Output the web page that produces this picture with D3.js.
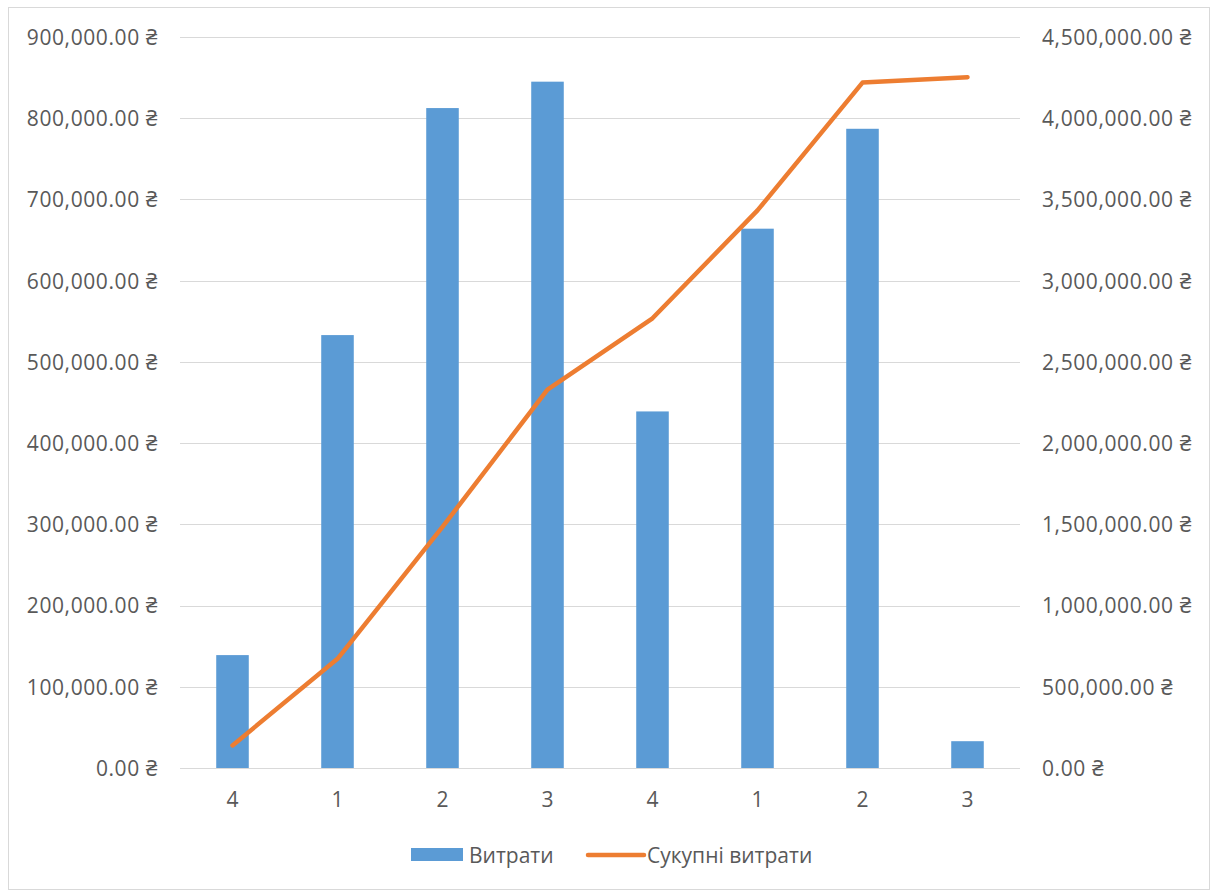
<!DOCTYPE html>
<html>
<head>
<meta charset="utf-8">
<script src="https://cdn.jsdelivr.net/npm/d3@7"></script>
<style>
  html, body { margin: 0; padding: 0; background: #fff; }
  svg { display: block; }
  text { font-family: "Open Sans", "Noto Sans", sans-serif; fill: #595959; }
</style>
</head>
<body>
<svg id="chart" width="1213" height="892"></svg>
<script>
// Quarter labels along the x axis
const quarters = ["4", "1", "2", "3", "4", "1", "2", "3"];
// Spending per quarter (UAH)
const spending = [139000, 533000, 812500, 845000, 439000, 664000, 787000, 33000];
// Running total of spending (UAH)
const cumulative = [139000, 672000, 1484500, 2329500, 2768500, 3432500, 4219500, 4252500];
// Axis ticks
const leftTicks = [0, 100000, 200000, 300000, 400000, 500000, 600000, 700000, 800000, 900000];
const rightTicks = [0, 500000, 1000000, 1500000, 2000000, 2500000, 3000000, 3500000, 4000000, 4500000];
// Legend labels
const seriesNames = ["Витрати", "Сукупні витрати"];

const svg = d3.select("#chart");
const plot = { left: 180, right: 1020, top: 37, bottom: 768 };
const fmt = v => d3.format(",.2f")(v) + " ₴";
const fontSize = "21px";

// Outer chart frame
svg.append("rect")
  .attr("x", 8.5).attr("y", 7.5).attr("width", 1201).attr("height", 882)
  .attr("fill", "#fff").attr("stroke", "#d9d9d9").attr("stroke-width", 1);

const x = d3.scaleBand().domain(d3.range(quarters.length))
  .range([plot.left, plot.right]).paddingInner(0.69).paddingOuter(0.345);
const yL = d3.scaleLinear().domain([0, 900000]).range([plot.bottom, plot.top]);
const yR = d3.scaleLinear().domain([0, 4500000]).range([plot.bottom, plot.top]);

// Horizontal gridlines
svg.append("g").selectAll("line").data(leftTicks).join("line")
  .attr("x1", plot.left).attr("x2", plot.right)
  .attr("y1", d => Math.round(yL(d)) + 0.5).attr("y2", d => Math.round(yL(d)) + 0.5)
  .attr("stroke", "#d9d9d9").attr("stroke-width", 1);

// Left axis labels
const leftAxis = d3.axisLeft(yL).tickValues(leftTicks).tickFormat(fmt).tickSize(0).tickPadding(0);
const gL = svg.append("g").attr("transform", `translate(158,0)`).call(leftAxis);
gL.select(".domain").remove();
gL.selectAll("text").style("font-size", fontSize).style("letter-spacing", "0.6px")
  .attr("fill", "#595959").attr("dy", "0.35em");

// Right axis labels
const rightAxis = d3.axisRight(yR).tickValues(rightTicks).tickFormat(fmt).tickSize(0).tickPadding(0);
const gR = svg.append("g").attr("transform", `translate(1042,0)`).call(rightAxis);
gR.select(".domain").remove();
gR.selectAll("text").style("font-size", fontSize).style("letter-spacing", "0.6px")
  .attr("fill", "#595959").attr("dy", "0.35em");

// Bars
svg.append("g").selectAll("rect").data(spending).join("rect")
  .attr("x", (d, i) => x(i)).attr("width", x.bandwidth())
  .attr("y", d => yL(d)).attr("height", d => yL(0) - yL(d))
  .attr("fill", "#5B9BD5");

// Category axis labels
const xAxis = d3.axisBottom(x).tickFormat(i => quarters[i]).tickSize(0).tickPadding(0);
const gX = svg.append("g").attr("transform", `translate(0,${plot.bottom})`).call(xAxis);
gX.select(".domain").remove();
gX.selectAll("text").style("font-size", fontSize).attr("fill", "#595959").attr("y", 39).attr("dy", "0");

// Cumulative line
const line = d3.line()
  .x((d, i) => x(i) + x.bandwidth() / 2)
  .y(d => yR(d));
svg.append("path").datum(cumulative)
  .attr("d", line).attr("fill", "none")
  .attr("stroke", "#ED7D31").attr("stroke-width", 4.5)
  .attr("stroke-linecap", "round").attr("stroke-linejoin", "round");

// Legend
const lg = svg.append("g");
lg.append("rect").attr("x", 411).attr("y", 848).attr("width", 52).attr("height", 13).attr("fill", "#5B9BD5");
lg.append("text").attr("x", 469).attr("y", 863).style("font-size", fontSize).text(seriesNames[0]);
lg.append("line").attr("x1", 588).attr("x2", 644).attr("y1", 855).attr("y2", 855)
  .attr("stroke", "#ED7D31").attr("stroke-width", 4.5).attr("stroke-linecap", "round");
lg.append("text").attr("x", 647).attr("y", 863).style("font-size", fontSize).text(seriesNames[1]);
</script>
</body>
</html>
